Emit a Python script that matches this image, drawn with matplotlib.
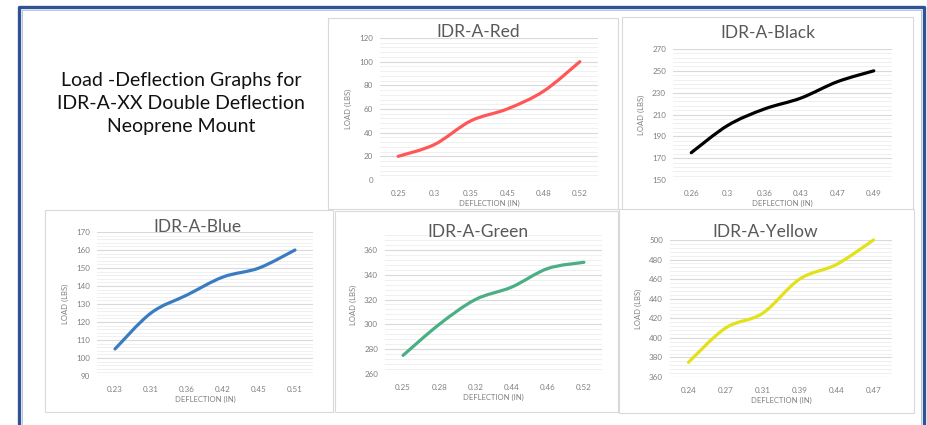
import matplotlib
matplotlib.use("Agg")
import matplotlib.pyplot as plt
import numpy as np
from matplotlib.path import Path
from matplotlib.patches import PathPatch, Rectangle
from matplotlib.lines import Line2D

W, H = 928, 425

# data
red_x = ["0.25", "0.3", "0.35", "0.45", "0.48", "0.52"]
red_load = [20, 30, 50, 60, 75, 100]

black_x = ["0.26", "0.3", "0.36", "0.43", "0.47", "0.49"]
black_load = [175, 200, 215, 225, 240, 250]

blue_x = ["0.23", "0.31", "0.36", "0.42", "0.45", "0.51"]
blue_load = [105, 125, 135, 145, 150, 160]

green_x = ["0.25", "0.28", "0.32", "0.44", "0.46", "0.52"]
green_load = [275, 300, 320, 330, 345, 350]

yellow_x = ["0.24", "0.27", "0.31", "0.39", "0.44", "0.47"]
yellow_load = [375, 410, 425, 460, 475, 500]

plt.rcParams["font.family"] = ["Lato", "DejaVu Sans"]


def fx(px):
    return px / W


def fy(py):
    return 1 - py / H


def smooth_path(xs, ys):
    # excel-like smoothed line: catmull-rom converted to cubic bezier segments
    pts = list(zip(xs, ys))
    verts = [pts[0]]
    codes = [Path.MOVETO]
    n = len(pts)
    for i in range(n - 1):
        p0 = pts[max(i - 1, 0)]
        p1 = pts[i]
        p2 = pts[i + 1]
        p3 = pts[min(i + 2, n - 1)]
        c1 = (p1[0] + (p2[0] - p0[0]) / 6, p1[1] + (p2[1] - p0[1]) / 6)
        c2 = (p2[0] - (p3[0] - p1[0]) / 6, p2[1] - (p3[1] - p1[1]) / 6)
        verts += [c1, c2, p2]
        codes += [Path.CURVE4] * 3
    return Path(verts, codes)


fig = plt.figure(figsize=(W / 100, H / 100), dpi=100)

# outer blue frame (open at the bottom)
frame_x = [fx(19), fx(19), fx(924), fx(924)]
frame_y = [0, fy(7), fy(7), 0]
fig.add_artist(Line2D(frame_x, frame_y, color="#2F5496", lw=2.4))
fig.add_artist(Line2D([fx(21.5), fx(21.5), fx(921.5), fx(921.5)],
                      [0, fy(9.5), fy(9.5), 0], color="#A9BBDD", lw=0.6))

fig.text(fx(181), fy(103.5), "Load -Deflection Graphs for\nIDR-A-XX Double Deflection\nNeoprene Mount",
         ha="center", va="center", fontsize=14, linespacing=1.45, color="#111111")


def panel(box, area, title, title_pos, cats, vals, color, ylim, major):
    bl, bt, br, bb = box
    fig.add_artist(Rectangle((fx(bl), fy(bb)), fx(br - bl), (bb - bt) / H,
                             facecolor="white", edgecolor="#D9D9D9", lw=0.8, zorder=0))
    al, at, ar, ab = area
    ax = fig.add_axes([fx(al), fy(ab), fx(ar - al), (ab - at) / H])
    ax.set_facecolor("none")
    xs = list(range(len(cats)))
    ax.add_patch(PathPatch(smooth_path(xs, vals), fill=False, edgecolor=color,
                           lw=2.3, capstyle="round", joinstyle="round", zorder=3,
                           clip_on=False))
    ax.set_xlim(-0.5, len(cats) - 0.5)
    ax.set_ylim(*ylim)
    ax.set_xticks(xs)
    ax.set_xticklabels(cats)
    ax.set_yticks(np.arange(ylim[0], ylim[1] + 0.01, major))
    ax.set_yticks(np.arange(ylim[0], ylim[1] + 0.01, major / 5), minor=True)
    ax.grid(which="major", axis="y", color="#D9D9D9", lw=0.8)
    ax.grid(which="minor", axis="y", color="#F0F0F0", lw=0.7)
    ax.set_axisbelow(True)
    for s in ax.spines.values():
        s.set_visible(False)
    ax.tick_params(which="both", length=0, labelsize=5.8, labelcolor="#7F7F7F")
    ax.tick_params(axis="x", pad=7)
    ax.tick_params(axis="y", pad=5)
    ax.set_xlabel("DEFLECTION (IN)", fontsize=5.5, color="#7F7F7F", labelpad=2)
    ax.set_ylabel("LOAD (LBS)", fontsize=5.5, color="#7F7F7F", labelpad=5)
    fig.text(fx(title_pos[0]), fy(title_pos[1]), title, ha="center", va="center",
             fontsize=12.5, color="#595959")
    return ax


panel((328, 18, 618, 209), (380, 38, 598, 180), "IDR-A-Red", (478, 32),
      red_x, red_load, "#FF5757", (0, 120), 20)
panel((622, 17, 913, 212), (673, 49, 892, 180), "IDR-A-Black", (768, 33),
      black_x, black_load, "#000000", (150, 270), 20)
panel((45, 210, 333, 412), (97, 232, 313, 376), "IDR-A-Blue", (197, 227),
      blue_x, blue_load, "#3A7CC1", (90, 170), 10)
panel((335, 211, 618, 412), (385, 235, 602, 374), "IDR-A-Green", (478, 232),
      green_x, green_load, "#4BAE84", (260, 372), 20)
panel((619, 209, 914, 413), (670, 240, 892, 377), "IDR-A-Yellow", (765, 232),
      yellow_x, yellow_load, "#E2E21A", (360, 500), 20)

fig.savefig("out.png", dpi=100)
